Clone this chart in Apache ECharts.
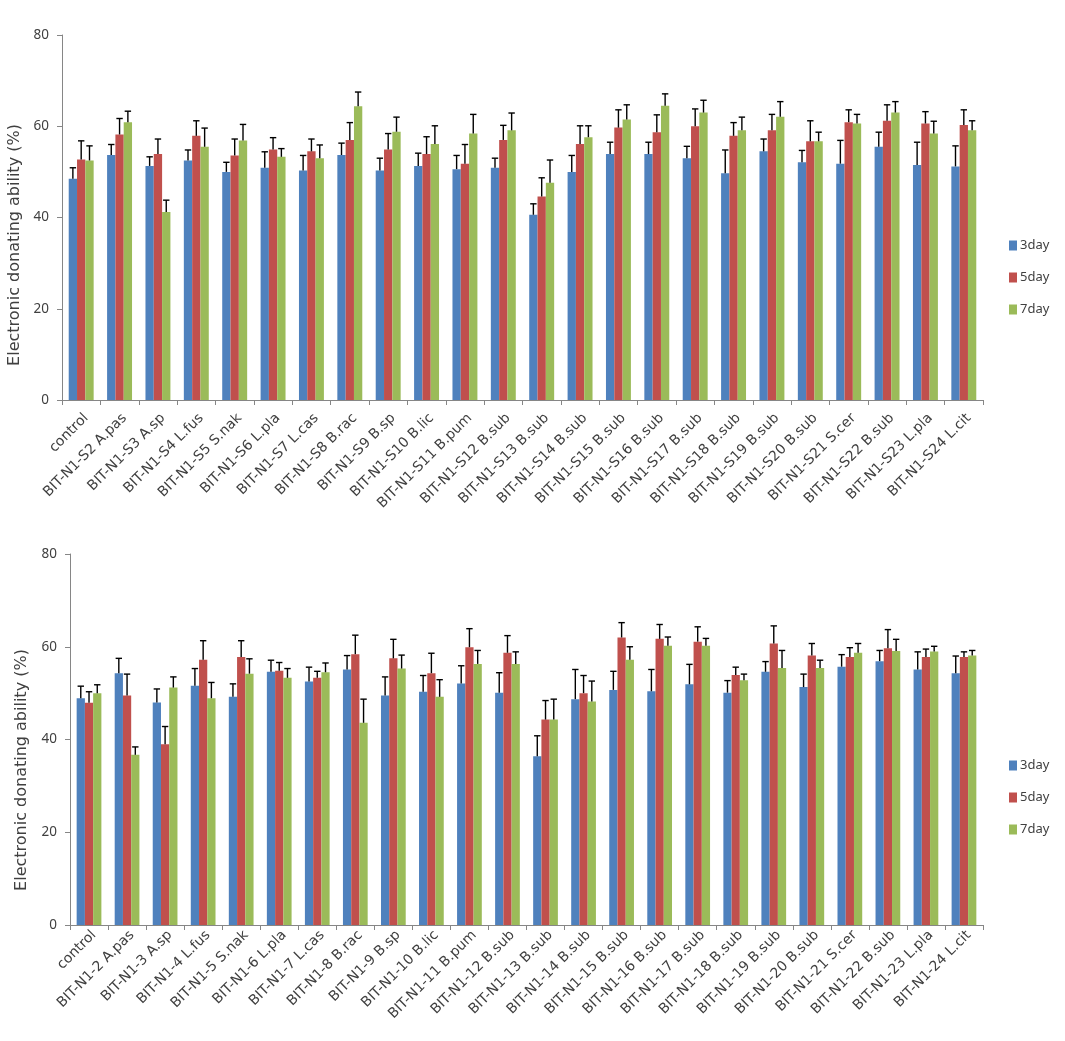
<!DOCTYPE html>
<html>
<head>
<meta charset="utf-8">
<script src="https://cdn.jsdelivr.net/npm/echarts@6/dist/echarts.min.js"></script>
<style>html,body{margin:0;padding:0;background:#fff}#c{width:1065px;height:1041px}</style>
</head>
<body>
<div id="c"></div>
<script>
const seriesNames = ['3day', '5day', '7day'];
const yTicks = { min: 0, max: 80, interval: 20 };
const yAxisName = 'Electronic donating ability (%)';

const topCategories = ['control', 'BIT-N1-S2 A.pas', 'BIT-N1-S3 A.sp', 'BIT-N1-S4 L.fus', 'BIT-N1-S5 S.nak', 'BIT-N1-S6 L.pla', 'BIT-N1-S7 L.cas', 'BIT-N1-S8 B.rac', 'BIT-N1-S9 B.sp', 'BIT-N1-S10 B.lic', 'BIT-N1-S11 B.pum', 'BIT-N1-S12 B.sub', 'BIT-N1-S13 B.sub', 'BIT-N1-S14 B.sub', 'BIT-N1-S15 B.sub', 'BIT-N1-S16 B.sub', 'BIT-N1-S17 B.sub', 'BIT-N1-S18 B.sub', 'BIT-N1-S19 B.sub', 'BIT-N1-S20 B.sub', 'BIT-N1-S21 S.cer', 'BIT-N1-S22 B.sub', 'BIT-N1-S23 L.pla', 'BIT-N1-S24 L.cit'];
const top3day = [48.5, 53.7, 51.3, 52.5, 50.0, 50.9, 50.3, 53.7, 50.3, 51.3, 50.6, 50.9, 40.6, 50.0, 53.9, 53.9, 53.0, 49.7, 54.5, 52.1, 51.8, 55.5, 51.5, 51.2];
const top3daySD = [2.4, 2.3, 2.0, 2.3, 2.1, 3.5, 3.3, 2.6, 2.7, 2.8, 3.0, 2.1, 2.4, 3.6, 2.6, 2.6, 2.6, 5.1, 2.7, 2.6, 5.1, 3.2, 5.0, 4.5];
const top5day = [52.7, 58.2, 53.9, 57.9, 53.6, 54.9, 54.5, 57.0, 54.9, 53.9, 51.8, 57.0, 44.6, 56.1, 59.7, 58.7, 60.0, 57.9, 59.1, 56.7, 60.9, 61.2, 60.6, 60.3];
const top5daySD = [4.1, 3.5, 3.3, 3.3, 3.6, 2.6, 2.7, 3.8, 3.5, 3.8, 4.2, 3.2, 4.1, 4.0, 3.9, 3.8, 3.8, 2.9, 3.5, 4.5, 2.7, 3.5, 2.6, 3.3];
const top7day = [52.5, 60.9, 41.2, 55.5, 56.9, 53.3, 53.0, 64.4, 58.8, 56.1, 58.4, 59.1, 47.6, 57.6, 61.5, 64.5, 63.0, 59.1, 62.1, 56.7, 60.6, 63.0, 58.4, 59.1];
const top7daySD = [3.2, 2.4, 2.6, 4.1, 3.5, 1.8, 2.9, 3.1, 3.2, 4.0, 4.2, 3.8, 5.0, 2.5, 3.2, 2.6, 2.7, 2.9, 3.3, 2.0, 2.0, 2.4, 2.7, 2.1];

const bottomCategories = ['control', 'BIT-N1-2 A.pas', 'BIT-N1-3 A.sp', 'BIT-N1-4 L.fus', 'BIT-N1-5 S.nak', 'BIT-N1-6 L.pla', 'BIT-N1-7 L.cas', 'BIT-N1-8 B.rac', 'BIT-N1-9 B.sp', 'BIT-N1-10 B.lic', 'BIT-N1-11 B.pum', 'BIT-N1-12 B.sub', 'BIT-N1-13 B.sub', 'BIT-N1-14 B.sub', 'BIT-N1-15 B.sub', 'BIT-N1-16 B.sub', 'BIT-N1-17 B.sub', 'BIT-N1-18 B.sub', 'BIT-N1-19 B.sub', 'BIT-N1-20 B.sub', 'BIT-N1-21 S.cer', 'BIT-N1-22 B.sub', 'BIT-N1-23 L.pla', 'BIT-N1-24 L.cit'];
const bottom3day = [48.9, 54.3, 48.0, 51.6, 49.2, 54.6, 52.5, 55.1, 49.5, 50.3, 52.1, 50.1, 36.4, 48.7, 50.7, 50.4, 51.9, 50.1, 54.6, 51.3, 55.7, 56.9, 55.1, 54.3];
const bottom3daySD = [2.6, 3.2, 2.9, 3.7, 2.8, 2.5, 3.1, 3.0, 4.0, 3.5, 3.8, 4.3, 4.4, 6.4, 4.0, 4.7, 4.3, 2.6, 2.2, 2.8, 2.6, 2.3, 3.8, 3.7];
const bottom5day = [47.9, 49.5, 39.0, 57.2, 57.8, 54.8, 53.3, 58.4, 57.5, 54.3, 59.9, 58.7, 44.3, 50.0, 62.0, 61.7, 61.1, 53.9, 60.7, 58.1, 57.8, 59.7, 57.8, 57.8];
const bottom5daySD = [2.4, 4.6, 3.8, 4.1, 3.5, 1.8, 1.4, 4.1, 4.1, 4.3, 4.0, 3.7, 4.1, 3.8, 3.2, 3.1, 3.2, 1.7, 3.8, 2.6, 2.0, 4.0, 1.7, 1.1];
const bottom7day = [50.0, 36.7, 51.2, 48.9, 54.2, 53.3, 54.5, 43.6, 55.3, 49.2, 56.3, 56.3, 44.3, 48.2, 57.2, 60.2, 60.2, 52.8, 55.4, 55.4, 58.7, 59.1, 59.0, 58.1];
const bottom7daySD = [1.8, 1.7, 2.3, 3.4, 3.2, 2.0, 2.0, 5.1, 2.9, 3.7, 2.9, 2.6, 4.4, 4.4, 2.8, 1.9, 1.6, 1.3, 3.8, 1.7, 2.0, 2.5, 1.1, 1.1];

const colors = ['#4F81BD', '#C0504D', '#9BBB59'];
const FONT = 'Noto Sans';
const LABEL_FONT = 'DejaVu Sans';
const BAR_FILL = 0.65;

const chart = echarts.init(document.getElementById('c'), null, { renderer: 'canvas' });

function barSeries(name, idx, axisIdx, vals) {
  return {
    name: name, type: 'bar', xAxisIndex: axisIdx, yAxisIndex: axisIdx,
    data: vals, barGap: '0%', barCategoryGap: '35%',
    itemStyle: { color: colors[idx] }, z: 2, animation: false
  };
}
function errSeries(idx, axisIdx, vals, sds) {
  return {
    type: 'custom', xAxisIndex: axisIdx, yAxisIndex: axisIdx, z: 5, animation: false,
    silent: true,
    data: vals.map((v, i) => [i, v, +(v + sds[i]).toFixed(2)]),
    encode: { x: 0, y: [1, 2] },
    renderItem: function (params, api) {
      const x = api.value(0);
      const p0 = api.coord([x, api.value(1)]);
      const p1 = api.coord([x, api.value(2)]);
      const catW = api.size([1, 0])[0];
      const bw = catW * BAR_FILL / 3;
      const cx = p0[0] + (idx - 1) * bw;
      const style = { stroke: '#000', lineWidth: 1.4 };
      return {
        type: 'group',
        children: [
          { type: 'line', shape: { x1: cx, y1: p0[1], x2: cx, y2: p1[1] }, style: style },
          { type: 'line', shape: { x1: cx - 3.2, y1: p1[1], x2: cx + 3.2, y2: p1[1] }, style: style }
        ]
      };
    }
  };
}

function xAxisCfg(gridIndex, cats, margin) {
  return {
    type: 'category', gridIndex: gridIndex, data: cats,
    axisLine: { lineStyle: { color: '#868686', width: 1 } },
    axisTick: { show: true, length: 5, lineStyle: { color: '#868686' } },
    axisLabel: { interval: 0, rotate: 45, fontSize: 14, color: '#404040', fontFamily: LABEL_FONT, margin: margin, verticalAlign: 'top' },
    splitLine: { show: false }
  };
}
function yAxisCfg(gridIndex) {
  return {
    type: 'value', gridIndex: gridIndex, min: yTicks.min, max: yTicks.max, interval: yTicks.interval,
    axisLine: { show: true, lineStyle: { color: '#868686', width: 1 } },
    axisTick: { show: true, length: 5, lineStyle: { color: '#868686' } },
    axisLabel: { fontSize: 13.5, color: '#404040', fontFamily: FONT, margin: 13 },
    splitLine: { show: false }
  };
}
function legendCfg(top) {
  return {
    data: seriesNames, orient: 'vertical', left: 1004, top: top,
    icon: 'rect', itemWidth: 8, itemHeight: 10, itemGap: 19,
    textStyle: { fontSize: 13, color: '#404040', fontFamily: FONT, padding: [0, 0, 0, -2] },
    selectedMode: false
  };
}

const option = {
  backgroundColor: '#fff',
  animation: false,
  color: colors,
  grid: [
    { left: 62, top: 35, width: 921, height: 365 },
    { left: 70, top: 554, width: 913, height: 371 }
  ],
  xAxis: [xAxisCfg(0, topCategories, 11), xAxisCfg(1, bottomCategories, 3)],
  yAxis: [yAxisCfg(0), yAxisCfg(1)],
  legend: [legendCfg(234), legendCfg(754)],
  graphic: [
    { type: 'text', x: 15, y: 245, rotation: Math.PI / 2,
      style: { text: yAxisName, fontSize: 16, fill: '#404040', fontFamily: 'DejaVu Sans', align: 'center', verticalAlign: 'middle' } },
    { type: 'text', x: 22, y: 770, rotation: Math.PI / 2,
      style: { text: yAxisName, fontSize: 16, fill: '#404040', fontFamily: 'DejaVu Sans', align: 'center', verticalAlign: 'middle' } }
  ],
  series: [
    barSeries(seriesNames[0], 0, 0, top3day),
    barSeries(seriesNames[1], 1, 0, top5day),
    barSeries(seriesNames[2], 2, 0, top7day),
    errSeries(0, 0, top3day, top3daySD),
    errSeries(1, 0, top5day, top5daySD),
    errSeries(2, 0, top7day, top7daySD),
    barSeries(seriesNames[0], 0, 1, bottom3day),
    barSeries(seriesNames[1], 1, 1, bottom5day),
    barSeries(seriesNames[2], 2, 1, bottom7day),
    errSeries(0, 1, bottom3day, bottom3daySD),
    errSeries(1, 1, bottom5day, bottom5daySD),
    errSeries(2, 1, bottom7day, bottom7daySD)
  ]
};
chart.setOption(option);
</script>
</body>
</html>
